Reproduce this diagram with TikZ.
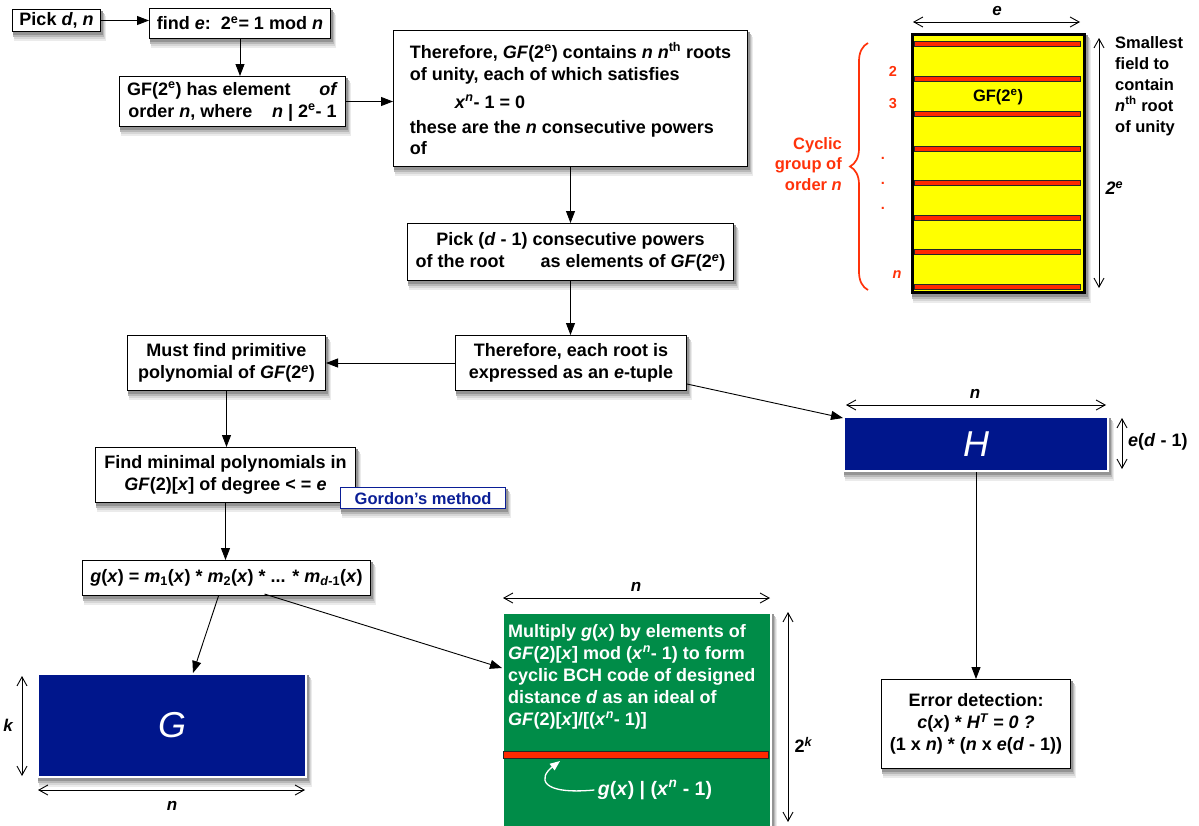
\documentclass[tikz,border=0pt]{standalone}
\usepackage{fontspec}
\setmainfont{Liberation Sans}
\usetikzlibrary{arrows.meta,decorations.pathreplacing,backgrounds}

\definecolor{matblue}{RGB}{0,22,140}
\definecolor{codegreen}{RGB}{0,140,72}
\definecolor{rowred}{RGB}{255,40,0}
\definecolor{notered}{RGB}{255,50,10}
\definecolor{gordonblue}{RGB}{10,30,150}
\definecolor{fieldyellow}{RGB}{255,255,0}

% italic variable names
\newcommand{\itv}[1]{\textit{#1}}
\newcommand{\supe}{\textsuperscript{e}}
\newcommand{\supie}{\textsuperscript{\itv{e}}}

\begin{document}
\begin{tikzpicture}[x=1pt,y=-1pt,
  every node/.style={font=\fontsize{18}{22}\selectfont\bfseries},
  box/.style={draw=black,line width=1pt,fill=white,inner sep=2pt,align=center,anchor=north west},
  matrixbox/.style={draw=white,line width=2pt,fill=matblue,anchor=north west,
                    text=white,font=\fontsize{36}{36}\selectfont\mdseries\itshape},
  flow/.style={-{Triangle[length=12pt,width=9pt]},line width=0.9pt},
  dim/.style={{Straight Barb[length=9pt,width=10pt]}-{Straight Barb[length=9pt,width=10pt]},line width=0.9pt},
  dimlabel/.style={font=\fontsize{17}{20}\selectfont\bfseries\itshape},
  rowbar/.style={fill=rowred,draw=black!85,line width=0.5pt},
  rednote/.style={text=notered,font=\fontsize{14.5}{16}\selectfont\bfseries},
]
\useasboundingbox (0,0) rectangle (1199,825);

% ---------- flow chart boxes ----------
\node[box,minimum width=88pt,minimum height=22pt] (pick) at (12,9) {Pick \itv{d}, \itv{n}};
\node[box,minimum width=181pt,minimum height=30pt] (finde) at (149,8)
  {find \itv{e}:\ \ 2\supe= 1 mod \itv{n}};
\node[box,minimum width=226pt,minimum height=50pt] (order) at (119,76)
  {GF(2\supe) has element\hspace{1.6em}\itv{of}\\order \itv{n}, where\hspace{1.1em}\itv{n} | 2\supe- 1};
\node[box,minimum width=354pt,minimum height=136pt,align=left] (roots) at (393,30)
  {Therefore, \itv{GF}(2\supe) contains \itv{n n}\textsuperscript{th} roots\\
   of unity, each of which satisfies\\[6pt]
   \hspace*{2.5em}\itv{x}\textsuperscript{\itv{n}}- 1 = 0\\[3pt]
   these are the \itv{n} consecutive powers\\[-1pt]
   of};
\node[box,minimum width=326pt,minimum height=57pt] (powers) at (407,223)
  {Pick (\itv{d} - 1) consecutive powers\\of the root\hspace{2em}as elements of \itv{GF}(2\supie)};
\node[box,minimum width=231pt,minimum height=55pt] (tuple) at (455,335)
  {Therefore, each root is\\expressed as an \itv{e}-tuple};
\node[box,minimum width=198pt,minimum height=55pt] (prim) at (127,335)
  {Must find primitive\\polynomial of \itv{GF}(2\supie)};
\node[box,minimum width=260pt,minimum height=55pt] (minpoly) at (95,447)
  {Find minimal polynomials in\\\itv{GF}(2)[\itv{x}] of degree < = \itv{e}};
\node[box,draw=gordonblue,line width=1.2pt,text=gordonblue,minimum width=165pt,minimum height=21pt,
      inner sep=1pt,font=\fontsize{16.5}{18}\selectfont\bfseries] (gordon) at (340,487) {Gordon's method};
\node[box,minimum width=288pt,minimum height=35pt] (gx) at (82,560)
  {\itv{g}(\itv{x}) = \itv{m}\textsubscript{1}(\itv{x}) * \itv{m}\textsubscript{2}(\itv{x}) * ... * \itv{m}\textsubscript{\itv{d}-1}(\itv{x})};
\node[box,minimum width=189pt,minimum height=89pt] (err) at (881,679)
  {Error detection:\\\itv{c}(\itv{x}) * \itv{H\textsuperscript{T} = 0 ?}\\(1 x \itv{n}) * (\itv{n} x \itv{e}(\itv{d} - 1))};

% ---------- generator and parity-check matrices ----------
\node[matrixbox,minimum width=268pt,minimum height=103pt] (G) at (37,673) {G};
\node[matrixbox,minimum width=264pt,minimum height=54pt] (H) at (843,416) {H};

% ---------- code space ----------
\node[draw=white,line width=2pt,fill=codegreen,anchor=north west,
      minimum width=268pt,minimum height=220pt] (code) at (502,612) {};
\node[anchor=north west,text=white,align=left,inner sep=3pt] (codetext) at (505,621)
  {Multiply \itv{g}(\itv{x}) by elements of\\
   \itv{GF}(2)[\itv{x}] mod (\itv{x}\textsuperscript{\itv{n}}- 1) to form\\
   cyclic BCH code of designed\\
   distance \itv{d} as an ideal of\\
   \itv{GF}(2)[\itv{x}]/[(\itv{x}\textsuperscript{\itv{n}}- 1)]};
\draw[rowbar,line width=0.8pt] (503,751) rectangle (768,758);
\node[text=white,font=\fontsize{19.5}{22}\selectfont\bfseries] (divides) at (655,790)
  {\itv{g}(\itv{x}) | (\itv{x}\textsuperscript{\itv{n}} - 1)};
\coordinate (bartip) at (560,761);
\draw[white,line width=1.3pt,-{Triangle[length=10pt,width=8pt]}]
  (divides.west) .. controls (540,795) and (538,778) .. (bartip);

% ---------- the field GF(2^e) ----------
\node[draw=black,line width=2.5pt,fill=fieldyellow,anchor=north west,
      minimum width=172pt,minimum height=258pt,inner sep=0pt] (field) at (911,33) {};
\foreach \yy in {44,79,114,149,183,218,252,287}
  \draw[rowbar] (914,\yy-2.5) rectangle (1080,\yy+2.5);
\node[font=\fontsize{16.5}{20}\selectfont\bfseries] (fieldname) at (998,97) {GF(2\supe)};

\draw[dim] (913,22) -- (1080,22);
\node[dimlabel] (elab) at (997,11) {e};
\draw[dim] (1099,38) -- (1099,288);
\node[anchor=west,font=\fontsize{18}{20}\selectfont\bfseries\itshape] (twoe) at (1102,188) {2\textsuperscript{e}};
\node[anchor=north west,align=left,inner sep=3pt,font=\fontsize{16.5}{21}\selectfont\bfseries] (smallest) at (1112,33)
  {Smallest\\field to\\contain\\\itv{n}\textsuperscript{th} root\\of unity};

% cyclic group of powers of the root
\draw[notered,line width=1.7pt,decorate,decoration={brace,amplitude=18pt}] (868,290) -- (868,43);
\node[anchor=north east,align=right,text=notered,inner sep=3pt,font=\fontsize{16.5}{20.5}\selectfont\bfseries] (cyclic) at (845,134)
  {Cyclic\\group of\\order \itv{n}};
\node[rednote] (r2) at (893,71) {2};
\node[rednote] (r3) at (893,104) {3};
\node[rednote] (rd1) at (883,158) {.};
\node[rednote] (rd2) at (883,183) {.};
\node[rednote] (rd3) at (883,208) {.};
\node[rednote,font=\fontsize{14.5}{16}\selectfont\bfseries\itshape] (rn) at (897,275) {n};

% ---------- soft drop shadows behind the boxes ----------
\begin{pgfonlayer}{background}
  \foreach \n in {pick,finde,order,roots,powers,tuple,prim,minpoly,gordon,gx,err,G,H,code,field} {
    \fill[black!8]  ([shift={(2pt,-9pt)}]\n.south west) rectangle ([shift={(5pt,-7pt)}]\n.north east);
    \fill[black!16] ([shift={(1.5pt,-7pt)}]\n.south west) rectangle ([shift={(4pt,-5pt)}]\n.north east);
    \fill[black!28] ([shift={(1pt,-5pt)}]\n.south west) rectangle ([shift={(3pt,-3.5pt)}]\n.north east);
    \fill[black!42] ([shift={(0.5pt,-3pt)}]\n.south west) rectangle ([shift={(2pt,-2pt)}]\n.north east);
  }
\end{pgfonlayer}

% ---------- dimension marks ----------
\draw[dim] (22,676) -- (22,776);
\node[dimlabel] (klab) at (8,725) {k};
\draw[dim] (38,790) -- (305,790);
\node[dimlabel] (nlabG) at (172,806) {n};

\draw[dim] (846,405) -- (1106,405);
\node[dimlabel] (nlabH) at (975,394) {n};
\draw[dim] (1122,418) -- (1122,469);
\node[anchor=west,inner sep=1pt] (edlab) at (1127,442) {\itv{e}(\itv{d} - 1)};

\draw[dim] (503,598) -- (770,598);
\node[dimlabel] (nlabC) at (636,587) {n};
\draw[dim] (788,612) -- (788,822);
\node[anchor=west,font=\fontsize{18}{20}\selectfont\bfseries] (twok) at (791,745) {2\textsuperscript{\itv{k}}};

% ---------- connectors ----------
\draw[flow] (pick.east) -- (pick.east -| finde.west);
\draw[flow] (finde.south) -- (finde.south |- order.north);
\draw[flow] (order.east) -- (order.east -| roots.west);
\draw[flow] (roots.south) -- (roots.south |- powers.north);
\draw[flow] (powers.south) -- (powers.south |- tuple.north);
\draw[flow] (tuple.west) -- (tuple.west -| prim.east);
\draw[flow] ([yshift=7pt]tuple.south east) -- ([yshift=-2pt]H.north west);
\draw[flow] (prim.south) -- (prim.south |- minpoly.north);
\draw[flow] (minpoly.south) -- (minpoly.south |- gx.north);
\draw[flow] ([xshift=-8pt]gx.south) -- ([xshift=21pt]G.north);
\draw[flow] ([xshift=38pt,yshift=2pt]gx.south) -- ([yshift=-56pt]code.north west);
\draw[flow] (H.south) -- (H.south |- err.north);
\end{tikzpicture}
\end{document}
